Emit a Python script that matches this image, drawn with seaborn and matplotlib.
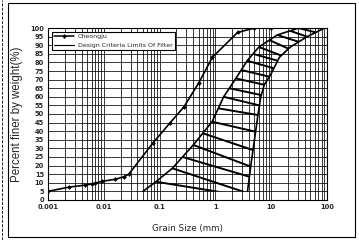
import numpy as np
import matplotlib
matplotlib.use("Agg")
import matplotlib.pyplot as plt
import seaborn as sns
import pandas as pd
from matplotlib.patches import Polygon, Rectangle
from matplotlib.lines import Line2D
from matplotlib.ticker import LogLocator, FixedLocator, NullFormatter, FixedFormatter

# Cheongju gradation curve (grain size mm, percent finer)
grain_mm = [0.001, 0.0024, 0.0046, 0.006, 0.007, 0.0092, 0.016, 0.023, 0.028,
            0.075, 0.155, 0.27, 0.5, 0.88, 2.5, 5.0, 10.0]
finer_pct = [5, 7.5, 8.6, 9.3, 9.8, 10.8, 12, 13.5, 15,
             33, 45, 54, 68, 83, 97.5, 100, 100]

# filter design criteria limits
fine_mm = [0.05, 0.085, 0.17, 0.4, 0.87, 1.4, 2.3, 3.7, 6.0, 12.8, 31]
fine_pct = [5, 10.5, 18.5, 32, 45.5, 60, 70.5, 81, 89, 96, 100]
coarse_mm = [3.75, 4.3, 5.0, 5.8, 6.5, 7.5, 9.8, 14, 22, 44, 90]
coarse_pct = [5, 20, 35, 50, 60, 67, 73, 83, 89, 95, 100]

# hatch strokes: percent on fine limit -> percent on coarse limit
hatch_from = [10.6, 18.4, 25, 32, 38.8, 45.5, 53.3, 60, 65, 70.7, 75.6, 81, 85, 89, 93, 96, 98.4, 100]
hatch_to = [2, 4, 13.5, 19.4, 29, 39.7, 49.4, 55, 61, 67, 71.7, 76.6, 81, 84, 88, 92, 95, 97.5]

x_ticks = [0.001, 0.01, 0.1, 1, 10, 100]
x_labels = ["0.001", "0.01", "0.1", "1", "10", "100"]
y_ticks = list(range(0, 101, 5))

sns.set_style("white")
plt.rcParams['font.family'] = ['Liberation Sans', 'DejaVu Sans']
narrow = ['Liberation Sans Narrow', 'DejaVu Sans']

fig = plt.figure(figsize=(3.59, 2.40), dpi=100)
ax = fig.add_axes([0.134, 0.167, 0.777, 0.716])

df = pd.DataFrame({'size': grain_mm, 'pct': finer_pct})
sns.lineplot(data=df, x='size', y='pct', sort=False, color='black', lw=1.2,
             marker='D', markersize=2.4, markeredgewidth=0, ax=ax, zorder=5)

fine = pd.DataFrame({'size': fine_mm, 'pct': fine_pct})
coarse = pd.DataFrame({'size': coarse_mm, 'pct': coarse_pct})
sns.lineplot(data=fine, x='size', y='pct', sort=False, color='black', lw=1.2, ax=ax, zorder=4)
sns.lineplot(data=coarse, x='size', y='pct', sort=False, color='black', lw=1.2, ax=ax, zorder=4)

# hatching between the limits, clipped to the band
band = Polygon(list(zip(fine_mm, fine_pct)) + list(zip(coarse_mm, coarse_pct))[::-1],
               closed=True, fill=False, lw=0, transform=ax.transData)
ax.add_patch(band)
lf = np.log10(fine_mm)
lc = np.log10(coarse_mm)
for a, b in zip(hatch_from, hatch_to):
    x0 = 10 ** np.interp(a, fine_pct, lf)
    x1 = 10 ** np.interp(b, coarse_pct, lc)
    ln, = ax.plot([x0, x1], [a, b], color='black', lw=1.4, zorder=4, solid_capstyle='butt')
    ln.set_clip_path(band)

ax.set_xscale('log')
ax.set_xlim(0.001, 100)
ax.set_ylim(0, 100)
ax.xaxis.set_major_locator(FixedLocator(x_ticks))
ax.xaxis.set_major_formatter(FixedFormatter(x_labels))
ax.xaxis.set_minor_locator(LogLocator(base=10, subs=range(2, 10)))
ax.xaxis.set_minor_formatter(NullFormatter())
ax.set_yticks(y_ticks)
ax.grid(which='both', color='black', lw=0.55)
for s in ax.spines.values():
    s.set_color('black')
    s.set_linewidth(0.8)
ax.tick_params(axis='both', which='major', labelsize=4.8, length=0, pad=3)
ax.tick_params(axis='x', which='minor', length=0)
for t in ax.get_xticklabels() + ax.get_yticklabels():
    t.set_family(narrow)
    t.set_fontweight('bold')

ax.set_xlabel('Grain Size (mm)', fontsize=6.3, labelpad=10, family=narrow)
ax.set_ylabel('Percent finer by weight(%)', fontsize=8.3, labelpad=5)

handles = [Line2D([], [], color='black', lw=1.1, marker='D', markersize=2.4, markeredgewidth=0),
           Line2D([], [], color='black', lw=0.8)]
leg = ax.legend(handles, ['Cheongju', 'Design Criteria Limits Of Filter'],
                loc='upper left', bbox_to_anchor=(0.003, 0.997), fancybox=False,
                framealpha=1, edgecolor='black', handlelength=3.2, handletextpad=0.6,
                borderpad=0.35, labelspacing=0.5, prop={'family': narrow, 'size': 4.5})
leg.get_frame().set_linewidth(0.8)
leg.set_zorder(10)

fig.add_artist(Rectangle((8 / 359, 3 / 240), 347 / 359, 234 / 240, transform=fig.transFigure,
                         fill=False, ec='black', lw=0.8))
fig.add_artist(Line2D([2 / 359, 2 / 359], [0, 1], transform=fig.transFigure,
                      color='black', lw=0.6, ls='--'))

fig.savefig('out.png', dpi=100)
